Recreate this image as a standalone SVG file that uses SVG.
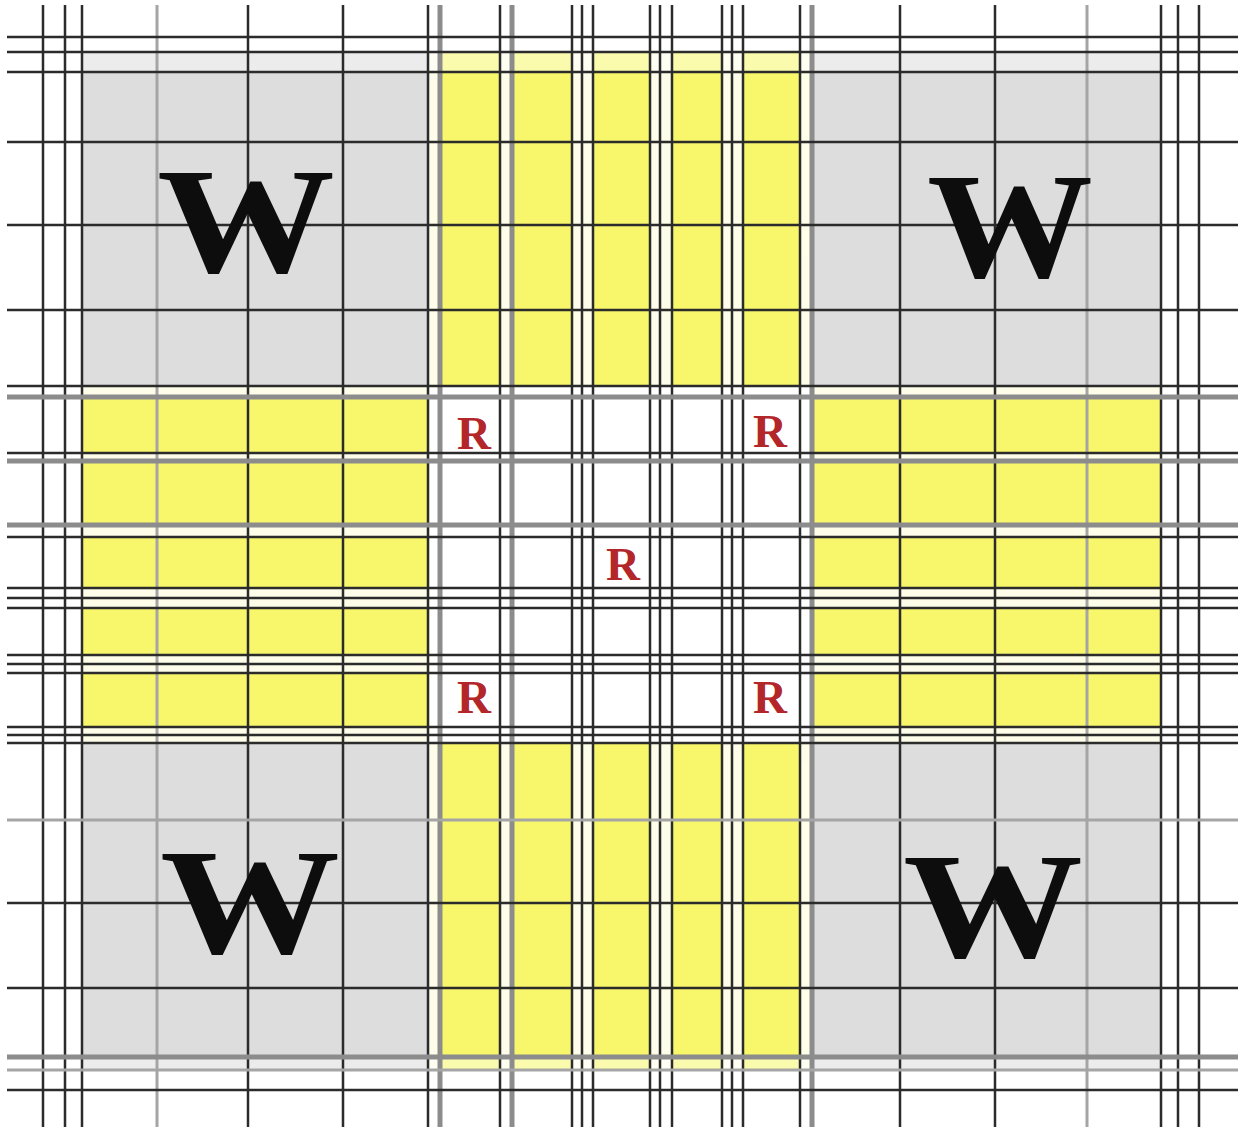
<svg xmlns="http://www.w3.org/2000/svg" width="1249" height="1135" viewBox="0 0 1249 1135">
<style>
.d{stroke:#2b2b2b;stroke-width:2.5}
.g{stroke:#8c8c8c;stroke-width:5}
.m{stroke:#a5a5a5;stroke-width:3}
.gray{fill:#dddddd}
.yel{fill:#f8f76c}
.gap{fill:#ffffff}
.w{font-family:"Liberation Serif","Times New Roman",serif;font-weight:bold;font-size:150px;fill:#0d0d0d;text-anchor:middle}
.r{font-family:"Liberation Serif","Times New Roman",serif;font-weight:bold;font-size:47px;fill:#b3262a;text-anchor:middle}
</style>
<rect width="1249" height="1135" fill="#ffffff"/>
<g id="fills">
<rect class="gray" x="82" y="52" width="348" height="334"/>
<rect class="gray" x="812" y="52" width="350" height="334"/>
<rect class="gray" x="82" y="743" width="348" height="327"/>
<rect class="gray" x="812" y="743" width="350" height="327"/>
<rect class="yel" x="430" y="52" width="382" height="1018"/>
<rect class="yel" x="82" y="386" width="1080" height="357"/>
<rect class="gap" x="430" y="386" width="382" height="357"/>
<g opacity="0.85">
<rect class="gap" x="428" y="52" width="12" height="1018"/>
<rect class="gap" x="500" y="52" width="12" height="1018"/>
<rect class="gap" x="572" y="52" width="21" height="1018"/>
<rect class="gap" x="650" y="52" width="22" height="1018"/>
<rect class="gap" x="722" y="52" width="21" height="1018"/>
<rect class="gap" x="800" y="52" width="12" height="1018"/>
<rect class="gap" x="82" y="386" width="1080" height="11"/>
<rect class="gap" x="82" y="453" width="1080" height="8"/>
<rect class="gap" x="82" y="525" width="1080" height="12"/>
<rect class="gap" x="82" y="588" width="1080" height="20"/>
<rect class="gap" x="82" y="655" width="1080" height="18"/>
<rect class="gap" x="82" y="727" width="1080" height="16"/>
</g>
<rect class="gap" x="82" y="52" width="1080" height="20" opacity="0.45"/>
<rect class="gap" x="82" y="1057" width="1080" height="13" opacity="0.45"/>
</g>
<g id="grid">
<g id="vertical-lines">
<line class="d" x1="43" y1="5" x2="43" y2="1127"/>
<line class="d" x1="65" y1="5" x2="65" y2="1127"/>
<line class="d" x1="82" y1="5" x2="82" y2="1127"/>
<line class="m" x1="157" y1="5" x2="157" y2="1127"/>
<line class="d" x1="248" y1="5" x2="248" y2="1127"/>
<line class="d" x1="343" y1="5" x2="343" y2="1127"/>
<line class="d" x1="428" y1="5" x2="428" y2="1127"/>
<line class="g" x1="440" y1="5" x2="440" y2="1127"/>
<line class="d" x1="500" y1="5" x2="500" y2="1127"/>
<line class="g" x1="512" y1="5" x2="512" y2="1127"/>
<line class="d" x1="572" y1="5" x2="572" y2="1127"/>
<line class="d" x1="582" y1="5" x2="582" y2="1127"/>
<line class="d" x1="593" y1="5" x2="593" y2="1127"/>
<line class="d" x1="650" y1="5" x2="650" y2="1127"/>
<line class="d" x1="660" y1="5" x2="660" y2="1127"/>
<line class="d" x1="672" y1="5" x2="672" y2="1127"/>
<line class="d" x1="722" y1="5" x2="722" y2="1127"/>
<line class="d" x1="732" y1="5" x2="732" y2="1127"/>
<line class="d" x1="743" y1="5" x2="743" y2="1127"/>
<line class="d" x1="800" y1="5" x2="800" y2="1127"/>
<line class="g" x1="812" y1="5" x2="812" y2="1127"/>
<line class="d" x1="900" y1="5" x2="900" y2="1127"/>
<line class="d" x1="995" y1="5" x2="995" y2="1127"/>
<line class="m" x1="1087" y1="5" x2="1087" y2="1127"/>
<line class="d" x1="1161" y1="5" x2="1161" y2="1127"/>
<line class="d" x1="1178" y1="5" x2="1178" y2="1127"/>
<line class="d" x1="1199" y1="5" x2="1199" y2="1127"/>
</g>
<g id="horizontal-lines">
<line class="d" x1="7" y1="37" x2="1238" y2="37"/>
<line class="d" x1="7" y1="52" x2="1238" y2="52"/>
<line class="d" x1="7" y1="72" x2="1238" y2="72"/>
<line class="d" x1="7" y1="142" x2="1238" y2="142"/>
<line class="d" x1="7" y1="225" x2="1238" y2="225"/>
<line class="d" x1="7" y1="310" x2="1238" y2="310"/>
<line class="d" x1="7" y1="386" x2="1238" y2="386"/>
<line class="g" x1="7" y1="397" x2="1238" y2="397"/>
<line class="d" x1="7" y1="453" x2="1238" y2="453"/>
<line class="g" x1="7" y1="461" x2="1238" y2="461"/>
<line class="g" x1="7" y1="525" x2="1238" y2="525"/>
<line class="d" x1="7" y1="537" x2="1238" y2="537"/>
<line class="d" x1="7" y1="588" x2="1238" y2="588"/>
<line class="d" x1="7" y1="598" x2="1238" y2="598"/>
<line class="d" x1="7" y1="608" x2="1238" y2="608"/>
<line class="d" x1="7" y1="655" x2="1238" y2="655"/>
<line class="d" x1="7" y1="664" x2="1238" y2="664"/>
<line class="d" x1="7" y1="673" x2="1238" y2="673"/>
<line class="d" x1="7" y1="727" x2="1238" y2="727"/>
<line class="d" x1="7" y1="735" x2="1238" y2="735"/>
<line class="d" x1="7" y1="743" x2="1238" y2="743"/>
<line class="m" x1="7" y1="820" x2="1238" y2="820"/>
<line class="d" x1="7" y1="903" x2="1238" y2="903"/>
<line class="d" x1="7" y1="988" x2="1238" y2="988"/>
<line class="g" x1="7" y1="1057" x2="1238" y2="1057"/>
<line class="m" x1="7" y1="1070" x2="1238" y2="1070"/>
<line class="d" x1="7" y1="1090" x2="1238" y2="1090"/>
</g>
</g>
<g id="labels-w">
<text class="w" x="246" y="272" textLength="178" lengthAdjust="spacingAndGlyphs">W</text>
<text class="w" x="1010" y="277" textLength="166" lengthAdjust="spacingAndGlyphs">W</text>
<text class="w" x="250" y="953" textLength="180" lengthAdjust="spacingAndGlyphs">W</text>
<text class="w" x="993" y="957" textLength="180" lengthAdjust="spacingAndGlyphs">W</text>
</g>
<g id="labels-r">
<text class="r" x="474" y="449">R</text>
<text class="r" x="770" y="447">R</text>
<text class="r" x="623" y="580">R</text>
<text class="r" x="474" y="713">R</text>
<text class="r" x="770" y="713">R</text>
</g>
</svg>
